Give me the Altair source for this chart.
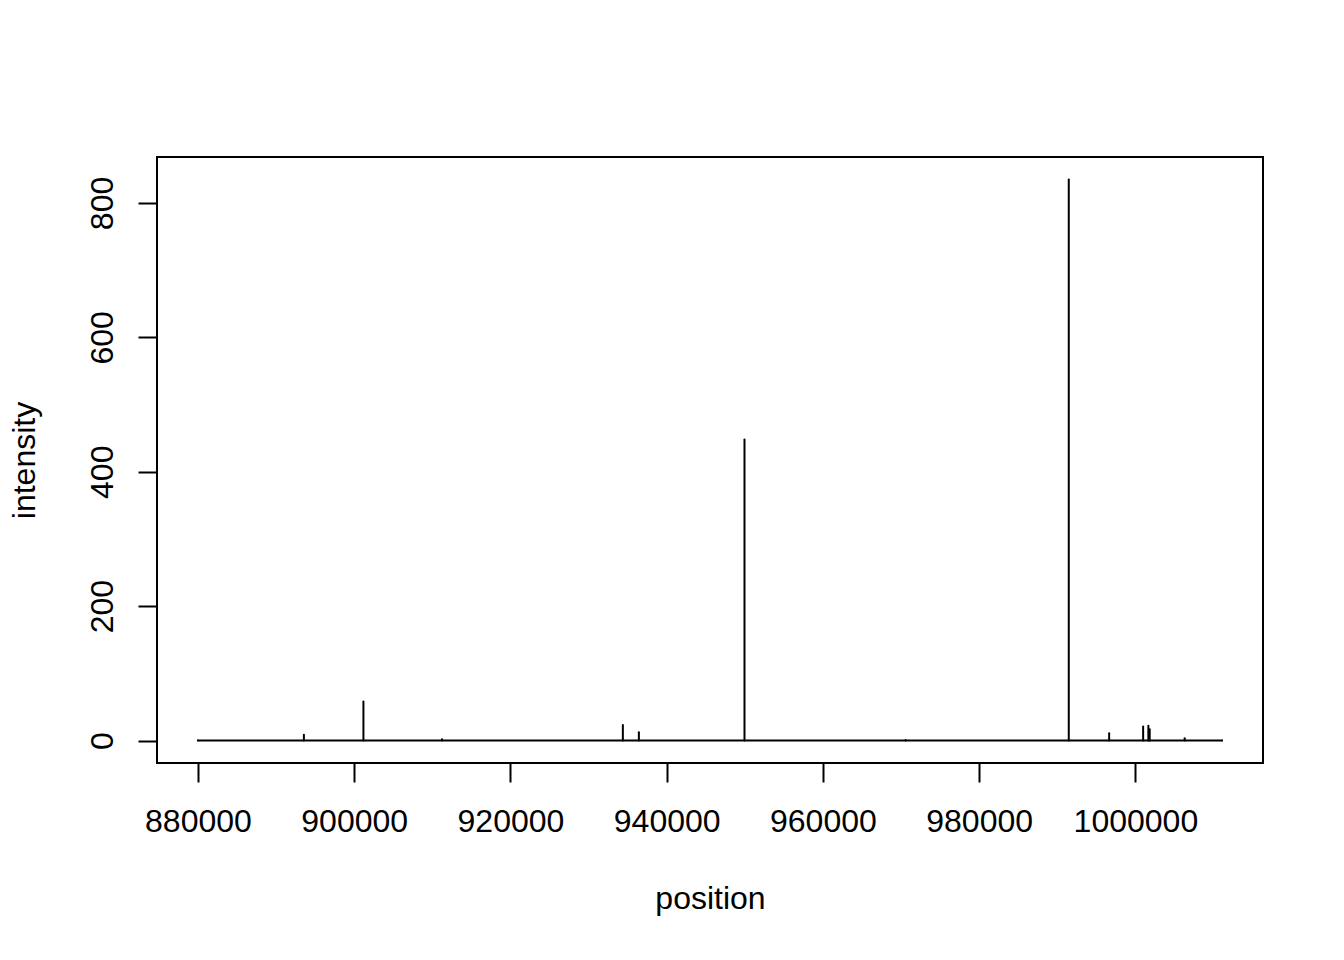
import altair as alt
import pandas as pd

# peak positions (x) and intensities (y)
positions = [880000, 893560, 901180, 911240, 934390, 936440, 949960, 970590,
             991470, 996640, 1000990, 1001660, 1001830, 1006310, 1011090]
intensity = [0, 8.5, 58, 2, 23, 12.5, 448, 1,
             835, 11, 21, 22, 17, 3.5, 0]

x_ticks = [880000, 900000, 920000, 940000, 960000, 980000, 1000000]
y_ticks = [0, 200, 400, 600, 800]

df = pd.DataFrame({"position": positions, "intensity": intensity})

FONT = "Liberation Sans"

xscale = alt.Scale(domain=[874756, 1016334], nice=False, zero=False)
yscale = alt.Scale(domain=[-33.4, 868.4], nice=False, zero=False)

xaxis = alt.Axis(
    values=x_ticks, format="d", title="position", grid=False, domain=False,
    tickSize=19, tickWidth=2, tickColor="black",
    labelFont=FONT, labelFontSize=32, labelColor="black",
    labelBaseline="alphabetic", labelPadding=49, labelAlign="center",
    titleFont=FONT, titleFontSize=32, titleFontWeight="normal", titleColor="black",
    titleBaseline="alphabetic", titleX=553, titleY=145, titleAlign="center",
    labelOverlap=False, labelFlush=False,
)
yaxis = alt.Axis(
    values=y_ticks, format="d", title="intensity", grid=False, domain=False,
    tickSize=19, tickWidth=2, tickColor="black",
    labelFont=FONT, labelFontSize=32, labelColor="black",
    labelAngle=270, labelBaseline="alphabetic", labelAlign="center", labelPadding=26,
    titleFont=FONT, titleFontSize=32, titleFontWeight="normal", titleColor="black",
    titleAngle=270, titleBaseline="alphabetic", titleAlign="center",
    titleX=-123, titleY=303,
    labelOverlap=False, labelFlush=False,
)

peaks = alt.Chart(df).mark_rule(color="black", strokeWidth=2, strokeCap="round").encode(
    x=alt.X("position:Q", scale=xscale, axis=xaxis),
    y=alt.Y("intensity:Q", scale=yscale, axis=yaxis),
    y2=alt.datum(0),
)

baseline = alt.Chart(df).transform_aggregate(
    xmin="min(position)", xmax="max(position)"
).mark_rule(color="black", strokeWidth=2, strokeCap="round").encode(
    x=alt.X("xmin:Q", scale=xscale, axis=xaxis),
    x2=alt.X2("xmax"),
    y=alt.datum(0),
)

chart = alt.layer(baseline, peaks).properties(
    width=1106, height=606,
    padding={"left": 149, "top": 149, "right": 73, "bottom": 181},
    autosize=alt.AutoSizeParams(type="none"),
    background="white",
).configure_view(stroke="black", strokeWidth=2)

chart.save("out.html", embed_options={"renderer": "svg", "actions": False})
